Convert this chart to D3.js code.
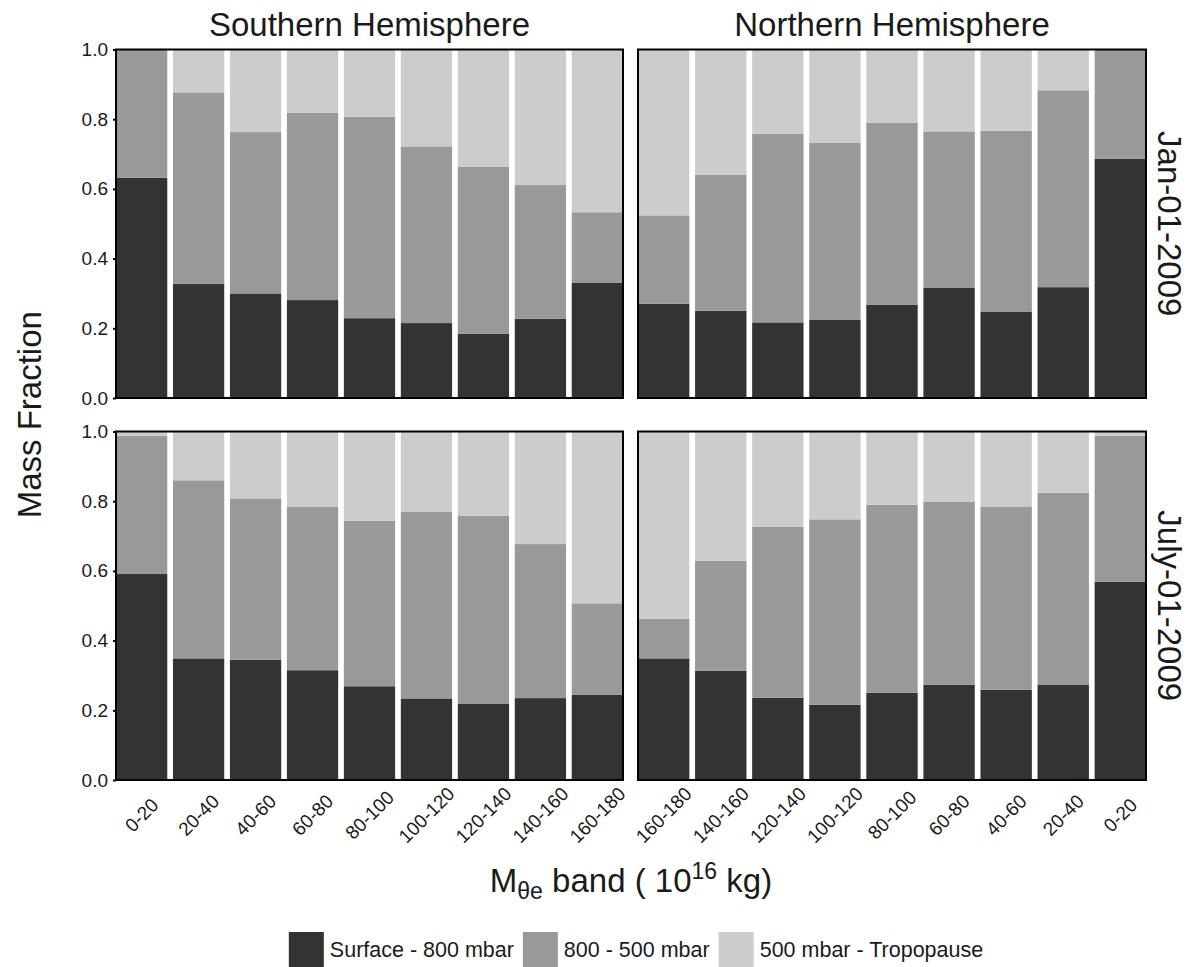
<html lang="en">
<head>
  <meta charset="UTF-8"/>
  <title>Mass fraction by M band</title>
  <script src="https://d3js.org/d3.v7.min.js"></script>
  <style>
    body { margin: 0; background: #ffffff; }
    text { font-family: "Liberation Sans", Arial, Helvetica, sans-serif; fill: #1a1a1a; }
  </style>
</head>
<body>
<svg id="chart" width="1190" height="967"></svg>
<script>
// band labels, south panels run poleward, north panels run back to the equator
var southBands = ["0-20", "20-40", "40-60", "60-80", "80-100", "100-120", "120-140", "140-160", "160-180"];
var northBands = ["160-180", "140-160", "120-140", "100-120", "80-100", "60-80", "40-60", "20-40", "0-20"];
var layerNames = ["Surface - 800 mbar", "800 - 500 mbar", "500 mbar - Tropopause"];
var layerColors = ["#333333", "#999999", "#cccccc"];
var hemispheres = ["Southern Hemisphere", "Northern Hemisphere"];
var dates = ["Jan-01-2009", "July-01-2009"];
var yTicks = [0, 0.2, 0.4, 0.6, 0.8, 1.0];

// Jan-01-2009
var janSouthSurface = [0.632, 0.327, 0.300, 0.281, 0.229, 0.215, 0.184, 0.227, 0.330];
var janSouthMid     = [0.368, 0.550, 0.463, 0.537, 0.578, 0.507, 0.479, 0.384, 0.203];
var janSouthUpper   = [0.000, 0.123, 0.237, 0.182, 0.193, 0.278, 0.337, 0.389, 0.467];
var janNorthSurface = [0.270, 0.250, 0.217, 0.224, 0.268, 0.317, 0.248, 0.318, 0.687];
var janNorthMid     = [0.254, 0.390, 0.541, 0.509, 0.521, 0.448, 0.519, 0.565, 0.313];
var janNorthUpper   = [0.476, 0.360, 0.242, 0.267, 0.211, 0.235, 0.233, 0.117, 0.000];

// July-01-2009
var julSouthSurface = [0.591, 0.349, 0.345, 0.315, 0.269, 0.234, 0.218, 0.235, 0.244];
var julSouthMid     = [0.396, 0.511, 0.463, 0.470, 0.475, 0.535, 0.540, 0.442, 0.263];
var julSouthUpper   = [0.013, 0.140, 0.192, 0.215, 0.256, 0.231, 0.242, 0.323, 0.493];
var julNorthSurface = [0.349, 0.313, 0.236, 0.216, 0.250, 0.273, 0.259, 0.274, 0.569];
var julNorthMid     = [0.114, 0.316, 0.491, 0.532, 0.540, 0.526, 0.526, 0.550, 0.419];
var julNorthUpper   = [0.537, 0.371, 0.273, 0.252, 0.210, 0.201, 0.215, 0.176, 0.012];

var svg = d3.select("#chart");

var colX = [[116, 623], [638, 1146]];
var rowY = [[49.5, 398], [431.5, 780]];

function rows(bands, s, m, u) {
  return bands.map(function(b, i) {
    return { band: b, surface: s[i], mid: m[i], upper: u[i] };
  });
}

var panels = [
  { row: 0, col: 0, bands: southBands, data: rows(southBands, janSouthSurface, janSouthMid, janSouthUpper) },
  { row: 0, col: 1, bands: northBands, data: rows(northBands, janNorthSurface, janNorthMid, janNorthUpper) },
  { row: 1, col: 0, bands: southBands, data: rows(southBands, julSouthSurface, julSouthMid, julSouthUpper) },
  { row: 1, col: 1, bands: northBands, data: rows(northBands, julNorthSurface, julNorthMid, julNorthUpper) }
];

var stack = d3.stack().keys(["surface", "mid", "upper"]);

panels.forEach(function(p) {
  var x0 = colX[p.col][0], x1 = colX[p.col][1];
  var top = rowY[p.row][0], bottom = rowY[p.row][1];

  var x = d3.scaleBand().domain(p.bands).range([x0, x1]).paddingInner(0.1).paddingOuter(0);
  var y = d3.scaleLinear().domain([0, 1]).range([bottom, top]);

  var g = svg.append("g");

  g.selectAll("g.layer")
    .data(stack(p.data))
    .enter().append("g")
    .attr("class", "layer")
    .attr("fill", function(d, i) { return layerColors[i]; })
    .selectAll("rect")
    .data(function(d) { return d; })
    .enter().append("rect")
    .attr("x", function(d) { return x(d.data.band); })
    .attr("width", x.bandwidth())
    .attr("y", function(d) { return y(d[1]); })
    .attr("height", function(d) { return y(d[0]) - y(d[1]); });

  // panel border
  g.append("rect")
    .attr("x", x0).attr("y", top)
    .attr("width", x1 - x0).attr("height", bottom - top)
    .attr("fill", "none")
    .attr("stroke", "#000")
    .attr("stroke-width", 2);

  // y axis only on the left column
  if (p.col == 0) {
    var ya = g.append("g")
      .attr("transform", "translate(" + x0 + ",0)")
      .call(d3.axisLeft(y).tickValues(yTicks).tickFormat(d3.format(".1f")).tickSize(3).tickPadding(5));
    ya.select(".domain").remove();
    ya.selectAll("line").attr("stroke", "#000").attr("stroke-width", 2);
    ya.selectAll("text").style("font-size", "19px").attr("fill", "#1a1a1a");
  }

  // x tick labels only on the bottom row
  if (p.row == 1) {
    var xa = g.append("g")
      .attr("transform", "translate(0," + bottom + ")")
      .call(d3.axisBottom(x).tickSize(0));
    xa.select(".domain").remove();
    xa.selectAll("text")
      .style("font-size", "19px")
      .attr("fill", "#1a1a1a")
      .attr("x", 0).attr("y", 0).attr("dy", "0.35em")
      .attr("text-anchor", "middle")
      .attr("transform", "translate(0,35) rotate(-45)");
  }
});

// column titles
svg.selectAll("text.coltitle")
  .data(hemispheres)
  .enter().append("text")
  .attr("class", "coltitle")
  .attr("x", function(d, i) { return (colX[i][0] + colX[i][1]) / 2; })
  .attr("y", 36)
  .attr("text-anchor", "middle")
  .style("font-size", "33px")
  .text(function(d) { return d; });

// row strips on the right
svg.selectAll("text.rowtitle")
  .data(dates)
  .enter().append("text")
  .attr("class", "rowtitle")
  .attr("transform", function(d, i) {
    return "translate(1158," + (rowY[i][0] + rowY[i][1]) / 2 + ") rotate(90)";
  })
  .attr("text-anchor", "middle")
  .style("font-size", "33px")
  .text(function(d) { return d; });

// y title
svg.append("text")
  .attr("transform", "translate(41," + (rowY[0][0] + rowY[1][1]) / 2 + ") rotate(-90)")
  .attr("text-anchor", "middle")
  .style("font-size", "33px")
  .text("Mass Fraction");

// x title with sub/superscripts
var xt = svg.append("text")
  .attr("x", (colX[0][0] + colX[1][1]) / 2)
  .attr("y", 892)
  .attr("text-anchor", "middle")
  .style("font-size", "33px");
xt.append("tspan").text("M");
xt.append("tspan").attr("dy", 7).style("font-size", "23px").text("\u03b8e");
xt.append("tspan").attr("dy", -7).text(" band ( 10");
xt.append("tspan").attr("dy", -13).style("font-size", "23px").text("16");
xt.append("tspan").attr("dy", 13).text(" kg)");

// legend
var legend = svg.append("g");
var cursor = 0;
layerNames.forEach(function(name, i) {
  var item = legend.append("g").attr("transform", "translate(" + cursor + ",0)");
  item.append("rect")
    .attr("x", 0).attr("y", 0)
    .attr("width", 35).attr("height", 35)
    .attr("fill", layerColors[i]);
  var t = item.append("text")
    .attr("x", 41).attr("y", 25)
    .style("font-size", "21.5px")
    .text(name);
  cursor += 41 + t.node().getComputedTextLength() + 9;
});
legend.attr("transform", "translate(" + (636 - (cursor - 9) / 2) + ",932)");
</script>
</body>
</html>
